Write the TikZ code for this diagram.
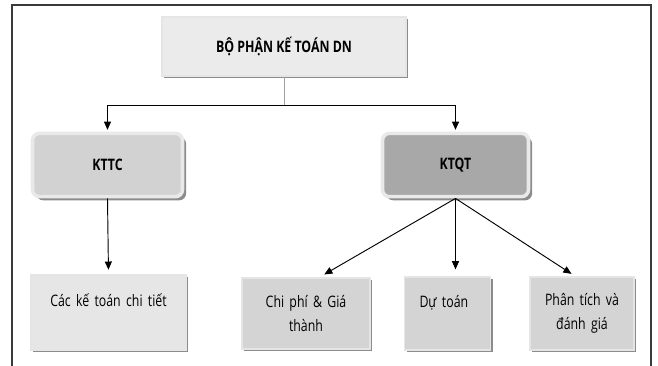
\documentclass[tikz,border=0pt]{standalone}
\usepackage{fontspec}
\setmainfont{Open Sans}[FakeStretch=0.78]
\usetikzlibrary{arrows.meta,shadows}
\definecolor{framegray}{HTML}{3A3A3A}
\definecolor{toplight}{HTML}{EBEBEB}
\definecolor{ringlight}{HTML}{E9E9E9}
\definecolor{kttcgray}{HTML}{D2D2D2}
\definecolor{ktqtgray}{HTML}{A8A8A8}
\definecolor{leaflight}{HTML}{E6E6E6}
\definecolor{leafgray}{HTML}{D4D4D4}
\definecolor{stemgray}{HTML}{A0A0A0}
\definecolor{shadowgray}{HTML}{8C8C8C}

\begin{document}
\begin{tikzpicture}[x=0.03cm, y=-0.03cm,
    font=\fontsize{13.5}{21}\selectfont,
    flatbox/.style={rectangle, draw=white!90!black, line width=1pt, align=center,
                    inner xsep=0.15cm,
                    drop shadow={shadow xshift=0.07cm, shadow yshift=-0.07cm,
                                 fill=shadowgray, opacity=1}},
    roundbox/.style={rectangle, rounded corners=6pt, draw=ringlight, line width=3pt,
                     minimum height=1.9cm, font=\fontsize{13.5}{18}\selectfont\bfseries,
                     drop shadow={shadow xshift=0.11cm, shadow yshift=-0.11cm,
                                  fill=shadowgray, opacity=1}},
    arrow/.style={-{Triangle[length=7pt,width=6pt]}, line width=0.8pt},
    stem/.style={draw=stemgray, line width=0.8pt},
    frame/.style={draw=framegray, line width=1.2pt}
  ]
  \useasboundingbox (0,0) rectangle (658,366);

  % outer frame
  \draw[frame] (12,366) -- (12,5) -- (651,5) -- (651,366);

  % top level
  \node[flatbox, fill=toplight, minimum width=7.32cm, minimum height=1.77cm,
        font=\fontsize{13.5}{18}\selectfont\bfseries] (bophan) at (284,46.5) {BỘ PHẬN KẾ TOÁN DN};

  % second level
  \node[roundbox, fill=kttcgray, minimum width=4.5cm] (kttc) at (107.5,165) {KTTC};
  \node[roundbox, fill=ktqtgray, minimum width=4.38cm] (ktqt) at (455.5,165) {KTQT};

  % third level
  \node[flatbox, fill=leaflight, text width=4.35cm, minimum height=2.25cm] (cackt) at (108.5,312.5)
       {Các kế toán chi tiết\\\mbox{}};
  \node[flatbox, fill=leafgray, text width=3.54cm, minimum height=2.13cm] (chiphi) at (306,313.5)
       {Chi phí \& Giá\\thành};
  \node[flatbox, fill=leafgray, align=left, inner xsep=0.45cm, text width=1.68cm,
        minimum height=2.19cm] (dutoan) at (447.5,313.5) {Dự toán\\\mbox{}};
  \node[flatbox, fill=leafgray, text width=2.82cm, minimum height=2.19cm] (phantich) at (582,313.5)
       {Phân tích và\\đánh giá};

  % connectors
  \coordinate (split) at (284,105);
  \draw[stem] (bophan.south) -- (split);
  \draw[arrow, shorten >=1.5pt] (split) -| (kttc.north);
  \draw[arrow, shorten >=1.5pt] (split) -| (ktqt.north);
  \draw[arrow, shorten >=4pt] (kttc.south) -- (cackt.north);
  \draw[arrow, shorten >=5pt] (ktqt.south) -- (chiphi.70);
  \draw[arrow, shorten >=6pt] (ktqt.south) -- (ktqt.south |- dutoan.north);
  \draw[arrow, shorten >=4pt] (ktqt.south) -- (phantich.100);
\end{tikzpicture}
\end{document}
